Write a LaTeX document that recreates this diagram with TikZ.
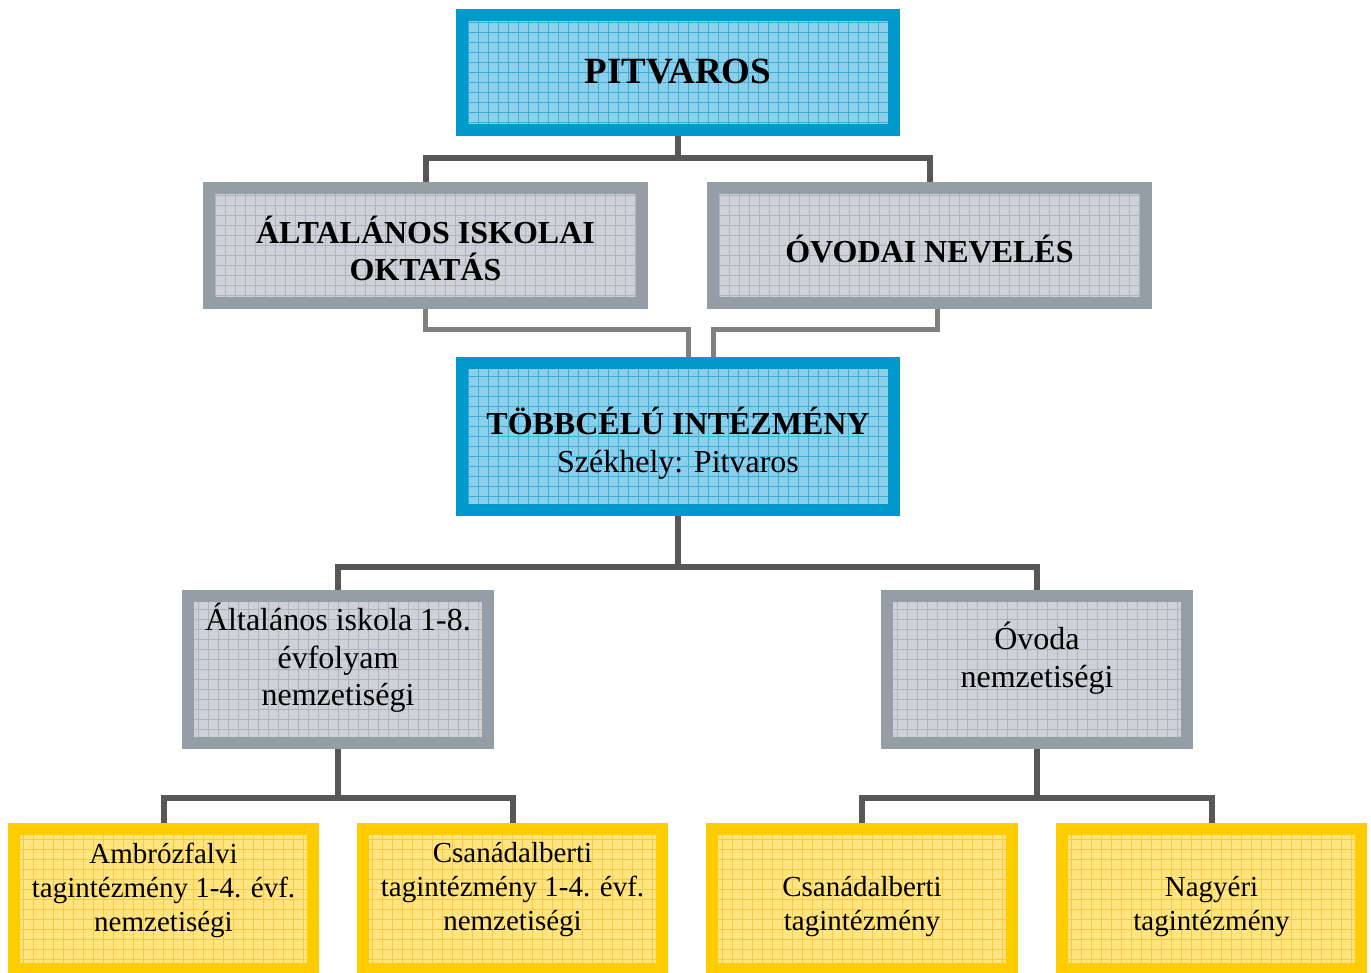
\documentclass[tikz,border=0pt]{standalone}
\usepackage{fontspec}
\setmainfont{Liberation Serif}
\definecolor{bluebd}{HTML}{0099CC}
\definecolor{bluein}{HTML}{8CCFEA}
\definecolor{bluegr}{HTML}{3AAED8}
\definecolor{graybd}{HTML}{959DA6}
\definecolor{grayin}{HTML}{CED2D8}
\definecolor{taggr}{HTML}{AEB4BC}
\definecolor{yelbd}{HTML}{FFCC00}
\definecolor{yelin}{HTML}{FFE480}
\definecolor{yelgr}{HTML}{F5CA4A}
\definecolor{conndark}{HTML}{575757}
\definecolor{connlight}{HTML}{808080}
\tikzset{
  gbox/.style n args={3}{draw=#1, fill=#2, line width=12pt, inner sep=0pt, rectangle,
    path picture={\draw[#3, line width=0.6pt, step=10pt]
      (path picture bounding box.south west) grid (path picture bounding box.north east);}},
  bluebox/.style={gbox={bluebd}{bluein}{bluegr}},
  graybox/.style={gbox={graybd}{grayin}{taggr}},
  yelbox/.style={gbox={yelbd}{yelin}{yelgr}},
  txt/.style={align=center, inner sep=0pt, font=\fontsize{32}{37.5}\selectfont},
  btxt/.style={txt, font=\fontsize{32}{37}\selectfont\bfseries},
  ytxt/.style={align=center, inner sep=0pt, font=\fontsize{29}{34}\selectfont},
  conn/.style={draw=conndark, line width=6pt},
  connl/.style={draw=connlight, line width=5pt},
}
\begin{document}
\begin{tikzpicture}[x=1pt, y=-1pt]
\useasboundingbox (0,0) rectangle (1371,973);
\begin{scope}
\clip (0,0) rectangle (1371,973);
% boxes
\node[bluebox, minimum width=432pt, minimum height=115pt] (pit) at (678,72.5) {};
\node[graybox, minimum width=433pt, minimum height=115pt] (aio) at (425.5,245.5) {};
\node[graybox, minimum width=433pt, minimum height=115pt] (ovn) at (929.5,245.5) {};
\node[bluebox, minimum width=432pt, minimum height=147pt] (tc) at (678,436.5) {};
\node[graybox, minimum width=300pt, minimum height=147pt] (ai) at (338,669.5) {};
\node[graybox, minimum width=300pt, minimum height=147pt] (ov) at (1037,669.5) {};
\node[yelbox, minimum width=299pt, minimum height=140pt] (y1) at (163.5,899) {};
\node[yelbox, minimum width=299pt, minimum height=140pt] (y2) at (512.5,899) {};
\node[yelbox, minimum width=300pt, minimum height=140pt] (y3) at (862,899) {};
\node[yelbox, minimum width=299pt, minimum height=140pt] (y4) at (1211.5,899) {};
% texts
\node[btxt, font=\fontsize{37}{42}\selectfont\bfseries] (tpit) at (678,72) {PITVAROS};
\node[btxt] (taio) at (425.5,248) {ÁLTALÁNOS ISKOLAI\\OKTATÁS};
\node[btxt] (tovn) at (929.5,249) {ÓVODAI NEVELÉS};
\node[txt] (ttc) at (678,443) {\textbf{TÖBBCÉLÚ INTÉZMÉNY}\\Székhely: Pitvaros};
\node[txt] (tai) at (338,658) {Általános iskola 1-8.\\évfolyam\\nemzetiségi};
\node[txt] (tov) at (1037,658) {Óvoda\\nemzetiségi};
\node[ytxt] (ty1) at (163.5,890) {Ambrózfalvi\\tagintézmény 1-4. évf.\\nemzetiségi};
\node[ytxt] (ty2) at (512.5,890) {Csanádalberti\\tagintézmény 1-4. évf.\\nemzetiségi};
\node[ytxt] (ty3) at (862,907) {Csanádalberti\\tagintézmény};
\node[ytxt] (ty4) at (1211.5,907) {Nagyéri\\tagintézmény};
\end{scope}
% connectors
\draw[conn] (pit.south) -- ++(0,22) -| (aio.north);
\draw[conn] (pit.south) -- ++(0,22) -| (ovn.north);
\draw[connl] (aio.south) -- ++(0,21) -| ([xshift=10pt]tc.north);
\draw[connl] ([xshift=7.5pt]ovn.south) -- ++(0,21) -| ([xshift=35pt]tc.north);
\draw[conn] (tc.south) -- ++(0,51) -| (ai.north);
\draw[conn] (tc.south) -- ++(0,51) -| (ov.north);
\draw[conn] (ai.south) -- ++(0,49) -| (y1.north);
\draw[conn] (ai.south) -- ++(0,49) -| (y2.north);
\draw[conn] (ov.south) -- ++(0,49) -| (y3.north);
\draw[conn] (ov.south) -- ++(0,49) -| (y4.north);
\end{tikzpicture}
\end{document}
